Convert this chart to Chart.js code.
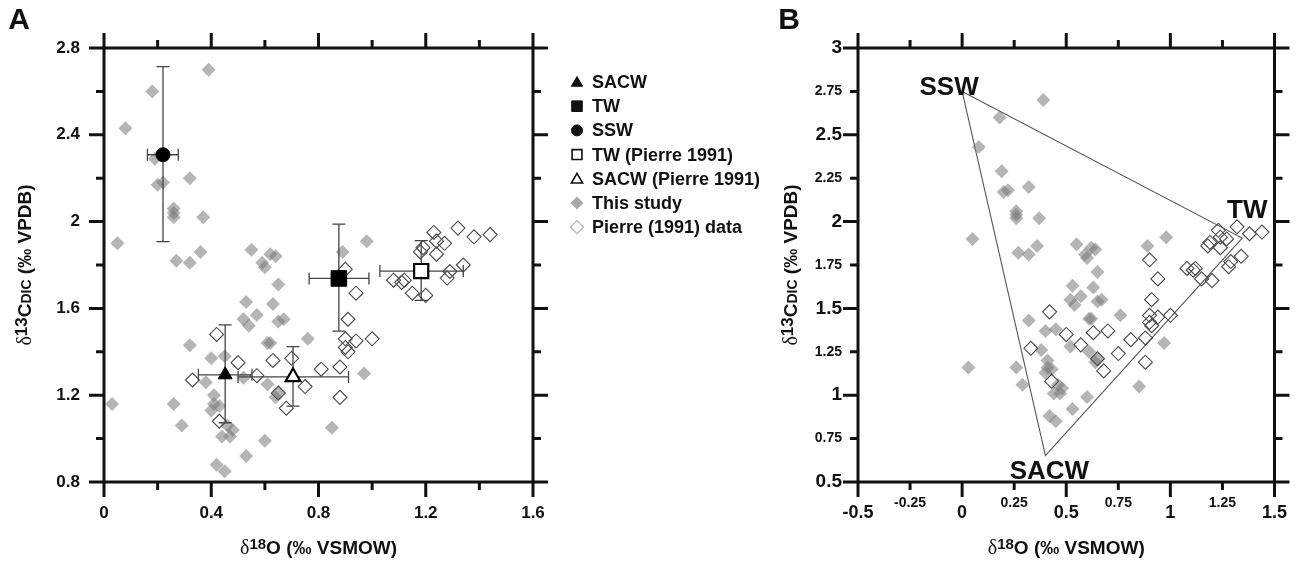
<!DOCTYPE html>
<html><head><meta charset="utf-8">
<script src="https://cdn.jsdelivr.net/npm/chart.js@4.4.0/dist/chart.umd.min.js"></script>
<style>
html,body{margin:0;padding:0;background:#fff;width:1307px;height:566px;overflow:hidden}
canvas{position:absolute;left:0;top:0}
</style></head><body>
<canvas id="ca" width="1307" height="566"></canvas>
<canvas id="cb" width="1307" height="566"></canvas>
<script>
// ---------- DATA ----------
const thisStudyX = [0.39,0.18,0.08,0.19,0.32,0.20,0.22,0.26,0.26,0.26,0.37,0.05,0.27,0.32,0.36,0.55,0.62,0.64,0.59,0.60,0.65,0.89,0.98,0.53,0.63,0.57,0.52,0.54,0.65,0.67,0.61,0.62,0.76,0.32,0.40,0.45,0.38,0.52,0.61,0.65,0.64,0.41,0.41,0.43,0.40,0.26,0.03,0.29,0.46,0.48,0.47,0.44,0.60,0.53,0.42,0.45,0.85,0.97];
const thisStudyY = [2.70,2.60,2.43,2.29,2.20,2.17,2.18,2.06,2.04,2.02,2.02,1.90,1.82,1.81,1.86,1.87,1.85,1.84,1.81,1.79,1.71,1.86,1.91,1.63,1.62,1.57,1.55,1.52,1.54,1.55,1.44,1.44,1.46,1.43,1.37,1.38,1.26,1.28,1.25,1.21,1.19,1.20,1.16,1.15,1.13,1.16,1.16,1.06,1.06,1.04,1.01,1.01,0.99,0.92,0.88,0.85,1.05,1.30];
const pierreX = [0.42,0.33,0.50,0.57,0.63,0.70,0.75,0.68,0.43,0.65,0.81,0.88,0.88,0.91,0.90,0.90,0.91,0.94,1.00,0.90,0.94,1.08,1.11,1.12,1.15,1.20,1.18,1.19,1.23,1.24,1.27,1.24,1.32,1.38,1.44,1.34,1.29,1.28];
const pierreY = [1.48,1.27,1.35,1.29,1.36,1.37,1.24,1.14,1.08,1.21,1.32,1.33,1.19,1.55,1.46,1.42,1.40,1.45,1.46,1.78,1.67,1.73,1.72,1.73,1.67,1.66,1.86,1.88,1.95,1.91,1.90,1.85,1.97,1.93,1.94,1.80,1.77,1.74];

const endNames = ['SACW','TW','SSW','TW (Pierre 1991)','SACW (Pierre 1991)'];
const endX     = [0.452, 0.876, 0.220, 1.183, 0.705];
const endY     = [1.294, 1.738, 2.308, 1.772, 1.284];
const endXLow  = [0.352, 0.765, 0.162, 1.029, 0.500];
const endXHigh = [0.552, 0.988, 0.277, 1.340, 0.912];
const endYLow  = [1.073, 1.495, 1.908, 1.637, 1.150];
const endYHigh = [1.524, 1.988, 2.714, 1.912, 1.424];

const mixNames = ['SSW','TW','SACW'];
const mixX = [0.00, 1.345, 0.40];
const mixY = [2.75, 1.905, 0.652];

const legendLabels = ['SACW','TW','SSW','TW (Pierre 1991)','SACW (Pierre 1991)','This study','Pierre (1991) data'];

const xTicksA = {min:0, max:1.6, step:0.2, major:0.4};
const yTicksA = {min:0.8, max:2.8, step:0.2, major:0.4};
const xTicksB = {min:-0.5, max:1.5, step:0.25, major:0.5};
const yTicksB = {min:0.5, max:3, step:0.25, major:0.5};

// ---------- HELPERS ----------
const FAM = "'Liberation Sans', Arial, Helvetica, sans-serif";
Chart.defaults.font.family = FAM;
Chart.defaults.color = '#111';
function fmt(v){ return String(Math.round(v*100)/100); }
function isMult(v, s){ const r = v/s; return Math.abs(r - Math.round(r)) < 1e-6; }
function pts(xs, ys){ return xs.map((x,i)=>({x:x, y:ys[i]})); }

const framePlugin = {
  id: 'frameTicks',
  afterDatasetsDraw(chart, args, o){
    const {ctx, chartArea:a, scales} = chart;
    const x = scales.x, y = scales.y;
    ctx.save();
    ctx.strokeStyle = '#111'; ctx.lineWidth = 3; ctx.lineCap = 'butt';
    ctx.strokeRect(a.left, a.top, a.right - a.left, a.bottom - a.top);
    ctx.beginPath();
    x.ticks.forEach(t => {
      const px = x.getPixelForValue(t.value);
      const L = isMult(t.value, o.xMajor) ? 15 : 8;
      ctx.moveTo(px, a.bottom); ctx.lineTo(px, a.bottom + L);
      ctx.moveTo(px, a.top); ctx.lineTo(px, a.top - L);
    });
    y.ticks.forEach(t => {
      const py = y.getPixelForValue(t.value);
      const L = isMult(t.value, o.yMajor) ? 15 : 8;
      ctx.moveTo(a.left, py); ctx.lineTo(a.left - L, py);
      ctx.moveTo(a.right, py); ctx.lineTo(a.right + L, py);
    });
    ctx.stroke();
    ctx.restore();
  }
};

function drawRich(ctx, parts, x, y, rotate){
  ctx.save();
  ctx.translate(x, y);
  if (rotate) ctx.rotate(-Math.PI/2);
  let total = 0;
  parts.forEach(p => { ctx.font = p.font; p.w = ctx.measureText(p.t).width; total += p.w; });
  let cx = -total/2;
  ctx.textAlign = 'left'; ctx.textBaseline = 'alphabetic'; ctx.fillStyle = '#111';
  parts.forEach(p => { ctx.font = p.font; ctx.fillText(p.t, cx, p.dy || 0); cx += p.w; });
  ctx.restore();
}
const xTitleParts = () => [
  {t:'\u03b4', font:"20px 'Liberation Serif', 'DejaVu Serif', serif"},
  {t:'18', font:"bold 15px "+FAM, dy:-5},
  {t:'O (\u2030 VSMOW)', font:"bold 19px "+FAM}
];
const yTitleParts = () => [
  {t:'\u03b4', font:"20px 'Liberation Serif', 'DejaVu Serif', serif"},
  {t:'13', font:"bold 17px "+FAM, dy:-4},
  {t:'C', font:"bold 19px "+FAM},
  {t:'DIC', font:"bold 14px "+FAM},
  {t:' (\u2030 VPDB)', font:"bold 19px "+FAM}
];

function errorBarPlugin(idx){
  return {
    id: 'errBars',
    beforeDatasetDraw(chart, args){
      if (args.index !== idx) return;
      const {ctx, scales:{x, y}} = chart;
      ctx.save();
      ctx.strokeStyle = '#444'; ctx.lineWidth = 1.3;
      ctx.beginPath();
      for (let i = 0; i < endX.length; i++){
        const cx = x.getPixelForValue(endX[i]), cy = y.getPixelForValue(endY[i]);
        const yl = y.getPixelForValue(endYLow[i]), yh = y.getPixelForValue(endYHigh[i]);
        const xl = x.getPixelForValue(endXLow[i]), xh = x.getPixelForValue(endXHigh[i]);
        ctx.moveTo(cx, yl); ctx.lineTo(cx, yh);
        ctx.moveTo(cx-6.5, yl); ctx.lineTo(cx+6.5, yl);
        ctx.moveTo(cx-6.5, yh); ctx.lineTo(cx+6.5, yh);
        ctx.moveTo(xl, cy); ctx.lineTo(xh, cy);
        ctx.moveTo(xl, cy-6); ctx.lineTo(xl, cy+6);
        ctx.moveTo(xh, cy-6); ctx.lineTo(xh, cy+6);
      }
      ctx.stroke();
      ctx.restore();
    }
  };
}

const textsA = {
  id: 'textsA',
  afterDraw(chart){
    const {ctx, chartArea:a} = chart;
    ctx.save();
    ctx.fillStyle = '#111';
    ctx.font = "bold 30px " + FAM; ctx.textAlign = 'center'; ctx.textBaseline = 'middle';
    ctx.fillText('A', 19, 21);
    // legend
    const lx = 577, tx = 592, ly0 = 82, dy = 24.2;
    const styles = [
      {ps:'triangle', r:6.5, fill:'#111', stroke:'#111', bw:1},
      {ps:'rect', r:7.5, fill:'#111', stroke:'#111', bw:1},
      {ps:'circle', r:5.5, fill:'#111', stroke:'#111', bw:1},
      {ps:'rect', r:7, fill:'#fff', stroke:'#111', bw:1.6},
      {ps:'triangle', r:6.5, fill:'#fff', stroke:'#111', bw:1.6},
      {ps:'rectRot', r:6.5, fill:'#a9a9a9', stroke:'#a9a9a9', bw:0},
      {ps:'rectRot', r:6.5, fill:'#fff', stroke:'#b5b5b5', bw:1.2}
    ];
    legendLabels.forEach((lab, i) => {
      const yy = ly0 + i*dy;
      const s = styles[i];
      ctx.fillStyle = s.fill; ctx.strokeStyle = s.stroke; ctx.lineWidth = s.bw;
      Chart.helpers.drawPoint(ctx, {pointStyle:s.ps, radius:s.r, rotation:0, borderWidth:s.bw}, lx, yy + (s.ps==='triangle'?1:0));
      ctx.fillStyle = '#111';
      ctx.font = "bold 18px " + FAM; ctx.textAlign = 'left'; ctx.textBaseline = 'middle';
      ctx.fillText(lab, tx, yy + 1);
    });
    ctx.restore();
    drawRich(ctx, xTitleParts(), (a.left + a.right)/2, 554, false);
    drawRich(ctx, yTitleParts(), 31, (a.top + a.bottom)/2, true);
  }
};

const textsB = {
  id: 'textsB',
  afterDraw(chart){
    const {ctx, chartArea:a, scales:{x, y}} = chart;
    ctx.save();
    ctx.fillStyle = '#111';
    ctx.font = "bold 30px " + FAM; ctx.textAlign = 'center'; ctx.textBaseline = 'middle';
    ctx.fillText('B', 789, 21);
    ctx.font = "bold 26px " + FAM;
    const offs = [[-13,-4],[5,-27],[4,16]];
    mixNames.forEach((n, i) => {
      const px = x.getPixelForValue(mixX[i]), py = y.getPixelForValue(mixY[i]);
      ctx.fillText(n, px + offs[i][0], py + offs[i][1]);
    });
    ctx.restore();
    drawRich(ctx, xTitleParts(), (a.left + a.right)/2, 554, false);
    drawRich(ctx, yTitleParts(), 797, (a.top + a.bottom)/2, true);
  }
};

function gridOpts(){ return {display:true, drawOnChartArea:false, drawTicks:false, tickLength:0, color:'rgba(0,0,0,0)'}; }

function makeScales(xt, yt, left, xFont, yFont, xPad, yPad){
  return {
    x: {
      type:'linear', position:'bottom', min:xt.min, max:xt.max,
      grid: gridOpts(), border:{display:false},
      ticks:{stepSize:xt.step, autoSkip:false, maxRotation:0, minRotation:0, padding:xPad, color:'#111', font:xFont,
        callback: xFont.all ? (v)=>fmt(v) : (v)=> isMult(v, xt.major) ? fmt(v) : ''},
      afterFit(s){ s.height = 84; }
    },
    y: {
      type:'linear', position:'left', min:yt.min, max:yt.max,
      grid: gridOpts(), border:{display:false},
      ticks:{stepSize:yt.step, autoSkip:false, padding:yPad, color:'#111', font:yFont,
        callback: yFont.all ? (v)=>fmt(v) : (v)=> isMult(v, yt.major) ? fmt(v) : ''},
      afterFit(s){ s.width = left; }
    }
  };
}

const grayStyle = {pointStyle:'rectRot', radius:7, backgroundColor:'rgba(120,120,120,0.55)', borderWidth:0};
const openStyle = {pointStyle:'rectRot', radius:7, backgroundColor:'rgba(255,255,255,0)', borderColor:'#4a4a4a', borderWidth:1.1};

// ---------- CHART A ----------
const xFontA = (c)=>({size:17, weight:'bold', lineHeight:1.2});
const yFontA = (c)=>({size:17, weight:'bold', lineHeight:1.2});
const scalesA = makeScales(xTicksA, yTicksA, 104, xFontA, yFontA, 21, 24);

new Chart(document.getElementById('ca'), {
  type:'scatter',
  data:{ datasets:[
    { label:'Endmembers', data: pts(endX, endY), order:0,
      pointStyle:['triangle','rect','circle','rect','triangle'],
      pointRadius:[8,11,7,10,8.5],
      pointBackgroundColor:['#000','#000','#000','#fff','#fff'],
      pointBorderColor:'#000',
      pointBorderWidth:[1,1,1,2.2,2.2] },
    Object.assign({ label:'Pierre (1991) data', data: pts(pierreX, pierreY), order:1 },
      {pointStyle:openStyle.pointStyle, pointRadius:openStyle.radius, pointBackgroundColor:openStyle.backgroundColor, pointBorderColor:openStyle.borderColor, pointBorderWidth:openStyle.borderWidth}),
    { label:'This study', data: pts(thisStudyX, thisStudyY), order:2,
      pointStyle:grayStyle.pointStyle, pointRadius:grayStyle.radius, pointBackgroundColor:grayStyle.backgroundColor, pointBorderWidth:0 }
  ]},
  options:{
    responsive:false, animation:false, devicePixelRatio:1,
    layout:{padding:{top:48, right:1307-533, bottom:0, left:0}},
    scales: scalesA,
    plugins:{ legend:{display:false}, tooltip:{enabled:false}, frameTicks:{xMajor:0.4, yMajor:0.4} }
  },
  plugins:[framePlugin, errorBarPlugin(0), textsA]
});

// ---------- CHART B ----------
const xFontB = (c)=> (c.tick && isMult(c.tick.value, 0.5)) ? {size:18, weight:'bold', lineHeight:1.2} : {size:14, weight:'bold', lineHeight:0.15};
xFontB.all = true;
const yFontB = (c)=> (c.tick && isMult(c.tick.value, 0.5)) ? {size:19, weight:'bold', lineHeight:1.2} : {size:14, weight:'bold', lineHeight:1.2};
yFontB.all = true;
const scalesB = makeScales(xTicksB, yTicksB, 858, xFontB, yFontB, 20, 16);

new Chart(document.getElementById('cb'), {
  type:'scatter',
  data:{ datasets:[
    Object.assign({ label:'Pierre (1991) data', data: pts(pierreX, pierreY), order:1 },
      {pointStyle:openStyle.pointStyle, pointRadius:openStyle.radius, pointBackgroundColor:openStyle.backgroundColor, pointBorderColor:openStyle.borderColor, pointBorderWidth:openStyle.borderWidth}),
    { label:'This study', data: pts(thisStudyX, thisStudyY), order:2,
      pointStyle:grayStyle.pointStyle, pointRadius:grayStyle.radius, pointBackgroundColor:grayStyle.backgroundColor, pointBorderWidth:0 },
    { type:'line', label:'Mixing triangle', order:3,
      data: pts(mixX.concat([mixX[0]]), mixY.concat([mixY[0]])),
      showLine:true, borderColor:'#555', borderWidth:1.1, pointRadius:0, fill:false, tension:0 }
  ]},
  options:{
    responsive:false, animation:false, devicePixelRatio:1,
    layout:{padding:{top:48, right:1307-1283, bottom:0, left:0}},
    scales: scalesB,
    plugins:{ legend:{display:false}, tooltip:{enabled:false}, frameTicks:{xMajor:0.5, yMajor:0.5} }
  },
  plugins:[framePlugin, textsB]
});
</script>
</body></html>
